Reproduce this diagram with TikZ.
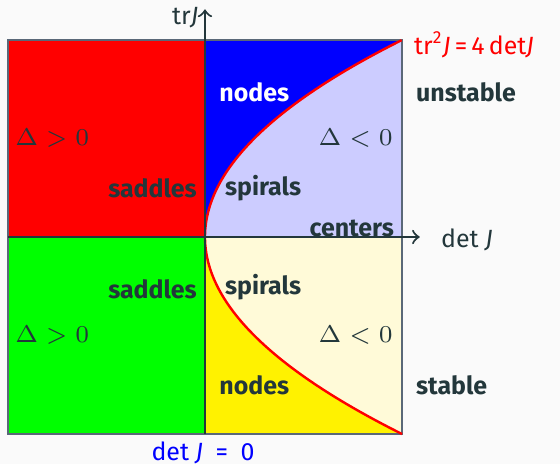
\documentclass[tikz,border=0pt]{standalone}
\usepackage{fontspec}
\setmainfont{Fira Sans}
\usepackage{tikz}
\usetikzlibrary{arrows}
\definecolor{fgteal}{HTML}{23373B}
\definecolor{bgpaper}{HTML}{FAFAFA}
\definecolor{edgegray}{HTML}{5A6878}
\definecolor{paleyellow}{HTML}{FFFAD8}
\tikzset{
	regionlabel/.style={font=\fontsize{7.2}{8.6}\selectfont\bfseries, text=fgteal},
	axislabel/.style={font=\fontsize{7.2}{8.6}\selectfont}
}
\begin{document}
\begin{tikzpicture}[>=to, text=fgteal, font=\fontsize{7.2}{8.6}\selectfont]
	\useasboundingbox[fill=bgpaper] (-2.081,-2.305) rectangle (3.604,2.406);
	\fill[red] (-2,0) rectangle (0,2);
	\fill[green] (-2,-2) rectangle (0,0);
	\fill[blue] (0,0) rectangle (2,2);
	\fill[blue!20] (0,0) -- plot[domain=0:2, samples=60] ({\x*\x/2},\x) -- (2,0) -- cycle;
	\fill[paleyellow] (0,-2) rectangle (2,0);
	\fill[yellow] (0,0) -- plot[domain=0:-2, samples=60] ({\x*\x/2},\x) -- (0,-2) -- cycle;
	\draw[edgegray, line width=0.4pt] (-2,-2) rectangle (2,2);
	\draw[red, line width=0.7pt] plot[domain=-2:2, samples=120] ({\x*\x/2},\x);
	\coordinate (trtop) at (0,2.31);
	\coordinate (trbottom) at (0,-2);
	\coordinate (detleft) at (-2,0);
	\coordinate (detend) at (2.18,0);
	\draw[->, fgteal, line width=0.6pt] (trbottom) -- (trtop);
	\draw[->, fgteal, line width=0.6pt] (detleft) -- (detend);
	\node[axislabel] (trlabel) at (-0.2,2.23) {tr\textit{J}};
	\node[axislabel] (detlabel) at (2.66,-0.03) {det \textit{J}};
	\node[axislabel, text=red, anchor=west] (curvelabel) at (2.0,1.95) {tr\textsuperscript{2}\textit{J}\,=\,4\,det\textit{J}};
	\node[axislabel, text=blue] (detzero) at (-0.02,-2.19) {det \textit{J}\enspace=\enspace0};
	\node[regionlabel, text=white] (nodesup) at (0.5,1.47) {nodes};
	\node[regionlabel] (nodesdown) at (0.5,-1.51) {nodes};
	\node[regionlabel, anchor=east] (saddlesup) at (0.04,0.49) {saddles};
	\node[regionlabel, anchor=east] (saddlesdown) at (0.04,-0.53) {saddles};
	\node[regionlabel] (spiralsup) at (0.59,0.50) {spirals};
	\node[regionlabel] (spiralsdown) at (0.59,-0.51) {spirals};
	\node[regionlabel] (centers) at (1.49,0.09) {centers};
	\node[regionlabel, anchor=west] (unstable) at (2.02,1.47) {unstable};
	\node[regionlabel, anchor=west] (stable) at (2.02,-1.51) {stable};
	\node (dposup) at (-1.55,1) {$\Delta > 0$};
	\node (dposdown) at (-1.55,-1) {$\Delta > 0$};
	\node (dnegup) at (1.53,1) {$\Delta < 0$};
	\node (dnegdown) at (1.53,-1) {$\Delta < 0$};
\end{tikzpicture}
\end{document}
